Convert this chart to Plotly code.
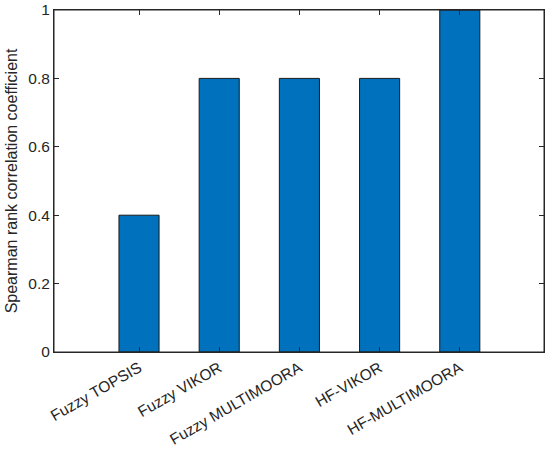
import plotly.graph_objects as go

methods = ["Fuzzy TOPSIS", "Fuzzy VIKOR", "Fuzzy MULTIMOORA", "HF-VIKOR", "HF-MULTIMOORA"]
spearman = [0.4, 0.8, 0.8, 0.8, 1.0]
y_ticks = [0, 0.2, 0.4, 0.6, 0.8, 1]
y_tick_labels = ["0", "0.2", "0.4", "0.6", "0.8", "1"]

fig = go.Figure()

fig.add_trace(
    go.Bar(
        x=methods,
        y=spearman,
        width=0.5,
        marker=dict(color="#0072BD", line=dict(color="#1a1a1a", width=1)),
    )
)

axis_font = dict(family="Liberation Sans, Arial, sans-serif", size=15.5, color="#262626")

fig.update_layout(
    width=550,
    height=450,
    margin=dict(l=54, r=6, t=10, b=98),
    plot_bgcolor="white",
    paper_bgcolor="white",
    showlegend=False,
    font=axis_font,
    xaxis=dict(
        type="category",
        range=[-1.06, 5.05],
        tickangle=-30,
        ticks="inside",
        ticklen=5,
        tickcolor="#262626",
        showline=True,
        linecolor="#262626",
        linewidth=1,
        mirror="ticks",
        showgrid=False,
        automargin=False,
        tickfont=axis_font,
    ),
    yaxis=dict(
        range=[0, 1],
        tickvals=y_ticks,
        ticktext=y_tick_labels,
        ticks="inside",
        ticklen=5,
        tickcolor="#262626",
        showline=True,
        linecolor="#262626",
        linewidth=1,
        mirror="ticks",
        showgrid=False,
        zeroline=False,
        automargin=False,
        ticklabeloverflow="allow",
        tickfont=axis_font,
        title=dict(
            text="Spearman rank correlation coefficient",
            font=dict(family="Liberation Sans, Arial, sans-serif", size=16, color="#262626"),
            standoff=6,
        ),
    ),
)

# MATLAB style box around the axes
fig.add_shape(
    type="rect", xref="paper", yref="paper", x0=0, y0=0, x1=1, y1=1,
    line=dict(color="#262626", width=1), layer="above",
)

# drop the default 8px body margin so the figure sits at the window corner
fig.write_html(
    "out.html",
    config={"displayModeBar": False},
    post_script="document.body.style.margin='0';",
)
